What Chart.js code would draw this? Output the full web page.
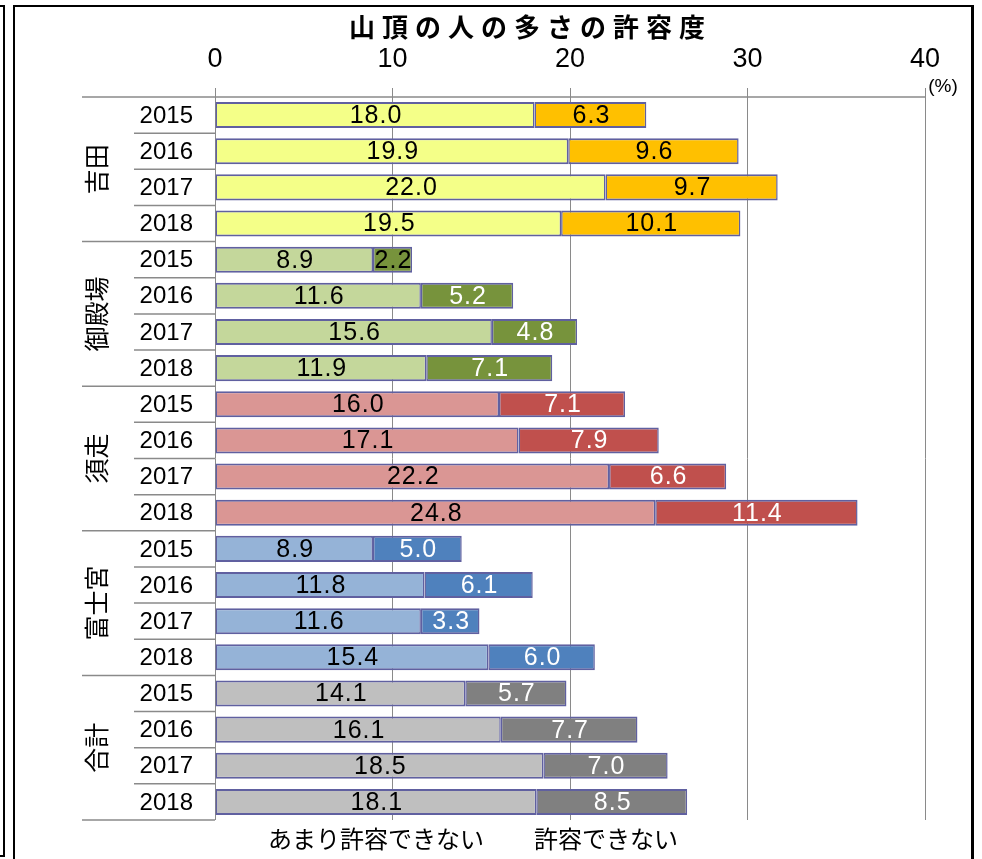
<!DOCTYPE html>
<html>
<head>
<meta charset="utf-8">
<script src="https://cdn.jsdelivr.net/npm/chart.js"></script>
<style>
  html, body { margin: 0; padding: 0; background: #fff; }
  canvas { display: block; }
</style>
</head>
<body>
<canvas id="tolerance" width="982" height="859"></canvas>
<script>
(function() {
  'use strict';

  // Data
  const title = '山頂の人の多さの許容度';
  const groups = ['吉田', '御殿場', '須走', '富士宮', '合計'];
  const years = ['2015', '2016', '2017', '2018'];
  const seriesNames = ['あまり許容できない', '許容できない'];
  const notVery = [18.0, 19.9, 22.0, 19.5, 8.9, 11.6, 15.6, 11.9, 16.0, 17.1, 22.2, 24.8, 8.9, 11.8, 11.6, 15.4, 14.1, 16.1, 18.5, 18.1];
  const notAtAll = [6.3, 9.6, 9.7, 10.1, 2.2, 5.2, 4.8, 7.1, 7.1, 7.9, 6.6, 11.4, 5.0, 6.1, 3.3, 6.0, 5.7, 7.7, 7.0, 8.5];
  const xTicks = [0, 10, 20, 30, 40];

  // Colours per group: [light, dark]
  const palette = [
    ['#f4ff88', '#ffc000'],
    ['#c4d79b', '#77933c'],
    ['#da9694', '#c0504d'],
    ['#95b3d7', '#4f81bd'],
    ['#bfbfbf', '#808080']
  ];
  const darkLabelWhite = [false, true, true, true, true];

  const labels = [];
  groups.forEach(() => years.forEach(y => labels.push(y)));
  const groupOf = i => Math.floor(i / years.length);

  const FONT = '"Liberation Sans", "Noto Sans CJK JP", sans-serif';
  const GRID = '#8a8a8a';

  const decor = {
    id: 'decor',
    beforeDraw(chart) {
      const ctx = chart.ctx;
      ctx.save();
      ctx.fillStyle = '#fff';
      ctx.fillRect(0, 0, chart.width, chart.height);
      ctx.strokeStyle = '#000';
      // outer strip on the left
      ctx.lineWidth = 2;
      ctx.beginPath();
      ctx.moveTo(0, 6); ctx.lineTo(4, 6); ctx.lineTo(4, 856); ctx.lineTo(0, 856);
      ctx.stroke();
      // chart frame
      ctx.beginPath();
      ctx.moveTo(14, 859); ctx.lineTo(14, 6); ctx.lineTo(972, 6);
      ctx.stroke();
      ctx.lineWidth = 3;
      ctx.beginPath();
      ctx.moveTo(972.5, 5); ctx.lineTo(972.5, 859);
      ctx.stroke();
      ctx.restore();
    },
    afterDatasetsDraw(chart) {
      const ctx = chart.ctx;
      ctx.save();
      ctx.font = '25px ' + FONT;
      ctx.letterSpacing = '1px';
      ctx.textAlign = 'center';
      ctx.textBaseline = 'middle';
      chart.data.datasets.forEach((ds, di) => {
        chart.getDatasetMeta(di).data.forEach((el, i) => {
          const p = el.getProps(['x', 'y', 'base'], true);
          const g = groupOf(i);
          ctx.fillStyle = (di === 1 && darkLabelWhite[g] && i !== 4) ? '#fff' : '#000';
          ctx.fillText(ds.data[i].toFixed(1), (p.x + p.base) / 2 + 1, p.y + 1);
        });
      });
      ctx.restore();
    },
    afterDraw(chart) {
      const ctx = chart.ctx;
      const a = chart.chartArea;
      const xS = chart.scales.x;
      const yS = chart.scales.y;
      const rowH = yS.getPixelForValue(1) - yS.getPixelForValue(0);
      ctx.save();

      // separators and axis frame lines
      ctx.strokeStyle = GRID;
      ctx.lineWidth = 1.5;
      ctx.beginPath();
      ctx.moveTo(82, a.top); ctx.lineTo(a.right, a.top);
      for (let k = 1; k <= labels.length; k++) {
        const yy = a.top + k * rowH;
        ctx.moveTo(k % years.length === 0 ? 82 : 134, yy);
        ctx.lineTo(a.left, yy);
      }
      ctx.stroke();

      ctx.fillStyle = '#000';
      ctx.textBaseline = 'middle';

      // x tick labels
      ctx.font = '27px ' + FONT;
      ctx.textAlign = 'center';
      xTicks.forEach(v => ctx.fillText(String(v), xS.getPixelForValue(v), 60));

      // year labels
      ctx.font = '24px ' + FONT;
      ctx.textAlign = 'right';
      labels.forEach((l, i) => ctx.fillText(l, 193, yS.getPixelForValue(i) + 1));

      // group labels, rotated
      ctx.font = '25px ' + FONT;
      ctx.textAlign = 'center';
      groups.forEach((g, gi) => {
        const yc = (yS.getPixelForValue(gi * years.length) + yS.getPixelForValue(gi * years.length + years.length - 1)) / 2;
        ctx.save();
        ctx.translate(99, yc);
        ctx.rotate(-Math.PI / 2);
        ctx.fillText(g, 0, 0);
        ctx.restore();
      });

      // title
      ctx.font = 'bold 26px ' + FONT;
      ctx.letterSpacing = '7px';
      ctx.textAlign = 'left';
      const tw = ctx.measureText(title).width - 7;
      ctx.fillText(title, 527 - tw / 2, 30);
      ctx.letterSpacing = '0px';

      // unit
      ctx.font = '19px ' + FONT;
      ctx.textAlign = 'center';
      ctx.fillText('(%)', 943, 87);

      // legend (text only)
      ctx.font = '24px ' + FONT;
      ctx.textAlign = 'left';
      let lx = 268;
      seriesNames.forEach(n => {
        ctx.fillText(n, lx, 841);
        lx += ctx.measureText(n).width + 50;
      });

      ctx.restore();
    }
  };

  const makeDs = (name, data, shade) => ({
    label: name,
    data: data,
    backgroundColor: data.map((_, i) => palette[groupOf(i)][shade]),
    borderColor: '#6060a0',
    borderWidth: { top: 2, bottom: 2, left: 1.5, right: 1.5 },
    borderSkipped: false,
    barPercentage: 0.72,
    categoryPercentage: 1,
    stack: 's'
  });

  new Chart(document.getElementById('tolerance'), {
    type: 'bar',
    data: {
      labels: labels,
      datasets: [
        makeDs(seriesNames[0], notVery, 0),
        makeDs(seriesNames[1], notAtAll, 1)
      ]
    },
    options: {
      indexAxis: 'y',
      responsive: false,
      devicePixelRatio: 1,
      animation: false,
      layout: { padding: { left: 215, right: 57, top: 57, bottom: 39 } },
      plugins: {
        legend: { display: false },
        tooltip: { enabled: false },
        title: { display: false }
      },
      scales: {
        x: {
          position: 'top',
          min: xTicks[0],
          max: xTicks[xTicks.length - 1],
          afterBuildTicks: s => { s.ticks = xTicks.map(v => ({ value: v })); },
          afterFit: s => { s.height = 40; },
          ticks: { display: false },
          grid: { color: GRID, lineWidth: 1, tickLength: 9 },
          border: { display: false }
        },
        y: {
          display: false,
          stacked: true
        }
      }
    },
    plugins: [decor]
  });
})();
</script>
</body>
</html>
